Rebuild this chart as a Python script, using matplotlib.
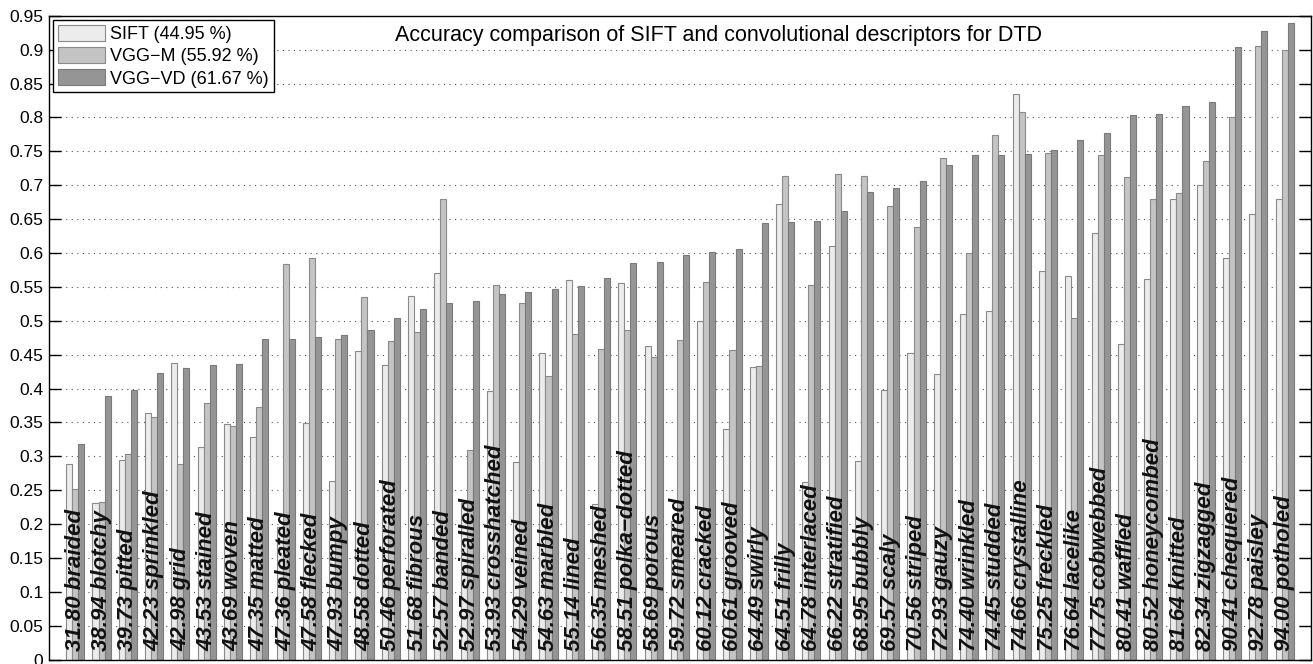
import numpy as np
import matplotlib
matplotlib.use('Agg')
import matplotlib.pyplot as plt

plt.rcParams['font.family'] = ['Liberation Sans', 'DejaVu Sans']

# texture categories, sorted by VGG-VD accuracy
categories = ['braided', 'blotchy', 'pitted', 'sprinkled', 'grid', 'stained', 'woven', 'matted',
              'pleated', 'flecked', 'bumpy', 'dotted', 'perforated', 'fibrous', 'banded', 'spiralled',
              'crosshatched', 'veined', 'marbled', 'lined', 'meshed', 'polka\u2212dotted', 'porous',
              'smeared', 'cracked', 'grooved', 'swirly', 'frilly', 'interlaced', 'stratified', 'bubbly',
              'scaly', 'striped', 'gauzy', 'wrinkled', 'studded', 'crystalline', 'freckled', 'lacelike',
              'cobwebbed', 'waffled', 'honeycombed', 'knitted', 'zigzagged', 'chequered', 'paisley',
              'potholed']

vgg_vd = [31.80, 38.94, 39.73, 42.23, 42.98, 43.53, 43.69, 47.35, 47.36, 47.58, 47.93, 48.58,
          50.46, 51.68, 52.57, 52.97, 53.93, 54.29, 54.63, 55.14, 56.35, 58.51, 58.69, 59.72,
          60.12, 60.61, 64.49, 64.51, 64.78, 66.22, 68.95, 69.57, 70.56, 72.93, 74.40, 74.45,
          74.66, 75.25, 76.64, 77.75, 80.41, 80.52, 81.64, 82.34, 90.41, 92.78, 94.00]

sift = [0.288, 0.231, 0.294, 0.364, 0.437, 0.313, 0.348, 0.329, 0.195, 0.349, 0.264, 0.455,
        0.434, 0.536, 0.571, 0.231, 0.397, 0.292, 0.453, 0.560, 0.230, 0.556, 0.462, 0.204,
        0.499, 0.340, 0.431, 0.672, 0.262, 0.611, 0.293, 0.398, 0.453, 0.421, 0.510, 0.514,
        0.835, 0.574, 0.566, 0.630, 0.465, 0.561, 0.680, 0.700, 0.593, 0.658, 0.680]

vgg_m = [0.252, 0.233, 0.303, 0.358, 0.289, 0.379, 0.345, 0.372, 0.583, 0.592, 0.473, 0.535,
         0.470, 0.484, 0.680, 0.310, 0.553, 0.526, 0.419, 0.480, 0.459, 0.487, 0.447, 0.472,
         0.557, 0.457, 0.433, 0.714, 0.553, 0.717, 0.713, 0.670, 0.638, 0.740, 0.600, 0.774,
         0.808, 0.747, 0.504, 0.745, 0.712, 0.680, 0.688, 0.736, 0.800, 0.906, 0.900]

legend_labels = ['SIFT (44.95 %)', 'VGG\u2212M (55.92 %)', 'VGG\u2212VD (61.67 %)']
title = 'Accuracy comparison of SIFT and convolutional descriptors for DTD'

x = np.arange(1, len(categories) + 1)
vd = np.array(vgg_vd) / 100
w = 0.23

fig = plt.figure(figsize=(13.13, 6.64), dpi=100)
ax = fig.add_axes([0.0373, 0.0066, 0.9611, 0.9697])

ax.bar(x - w, sift, w, color='#ececec', edgecolor='#8a8a8a', linewidth=0.8, label=legend_labels[0], zorder=2)
ax.bar(x, vgg_m, w, color='#c4c4c4', edgecolor='#8a8a8a', linewidth=0.8, label=legend_labels[1], zorder=2)
ax.bar(x + w, vd, w, color='#959595', edgecolor='#7a7a7a', linewidth=0.8, label=legend_labels[2], zorder=2)

# labels inside the bars: VGG-VD accuracy + category name
for xi, v, name in zip(x, vgg_vd, categories):
    ax.text(xi, 0.013, '%.2f %s' % (v, name), rotation=90, ha='center', va='bottom',
            fontsize=16, fontweight='bold', fontstyle='italic', color='#111111', zorder=3)

ax.set_xlim(0, len(categories) + 1)
ax.set_ylim(0, 0.95)
ax.set_yticks(np.arange(0, 0.951, 0.05))
ax.set_yticklabels(['%g' % round(t, 2) for t in np.arange(0, 0.951, 0.05)])
ax.set_xticks([])
ax.tick_params(axis='y', direction='in', length=8.5, width=1, labelsize=12.5, right=True, left=True, pad=4)
ax.yaxis.grid(True, linestyle=(0, (1, 4)), color='#555555', linewidth=0.8, zorder=0)
ax.set_axisbelow(True)
for s in ax.spines.values():
    s.set_linewidth(1.0)
    s.set_color('black')

leg = ax.legend(loc='upper left', fontsize=13, fancybox=False, edgecolor='black', framealpha=1,
                borderaxespad=0.25, handlelength=2.6, handleheight=1.0, labelspacing=0.22,
                borderpad=0.25, handletextpad=0.3)
leg.get_frame().set_linewidth(1.0)

fig.text(0.5476, 0.9458, title, ha='center', va='center', fontsize=15.5)

fig.savefig('out.png', dpi=100)
